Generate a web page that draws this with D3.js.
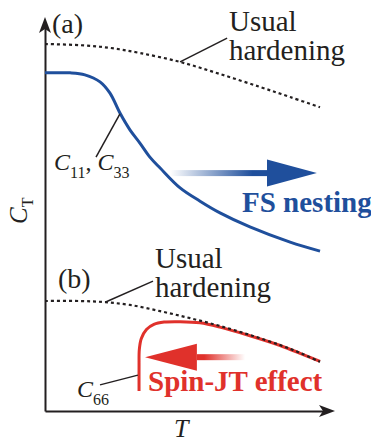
<!DOCTYPE html>
<html>
<head>
<meta charset="utf-8">
<script src="https://cdn.jsdelivr.net/npm/d3@7"></script>
<style>
  body { margin: 0; background: #fff; }
</style>
</head>
<body>
<div id="wrapper"></div>
<script>
// curves in arbitrary units: T from 0..100, C from 0..100
const hardeningA = [[0,94.1],[12.3,93.8],[22.8,93.1],[33.3,91.8],[47.4,89.5],[61.4,86.4],[75.4,83.1],[86,80.5],[96.5,77.9]];
const nestingC11 = [[0,86.7],[8.8,86.7],[14,86.2],[19.3,84.4],[22.8,81.5],[26.3,76.4],[29.8,72.1],[33.3,68.7],[36.8,65.1],[40.4,62.3],[47.4,57.2],[54.4,53.8],[61.4,50.8],[71.9,47.2],[86,43.3],[96.5,41]];
const hardeningB = [[0,28.2],[12.3,28.2],[21.1,27.9],[29.8,27.2],[40.4,25.6],[50.9,23.8],[61.4,21.8],[71.9,19.5],[82.5,16.9],[89.5,14.9],[96.5,12.6]];
const spinC66 = [[33,5.1],[33,11.8],[33.1,15.8],[33.8,18.6],[35.6,20.9],[38.2,22.2],[41.8,22.8],[47.4,22.9],[54.4,22.6],[61.4,21.5],[71.9,19.3],[82.5,16.8],[89.5,14.8],[96.5,12.7]];

// leader lines [from, to]
const leaders = [
  [[47.4,89.5],[63.9,95.6]],
  [[26.3,76.2],[17.9,65.1]],
  [[21.1,27.9],[37.9,33.3]],
  [[19.3,6.7],[32.6,9.2]]
];

// arrows: start of shaft, head base, tip, C level
const blueArrow = {from: 43.9, base: 77.9, tip: 95.4, c: 61.0};
const redArrow = {from: 70.2, base: 53.3, tip: 35.1, c: 13.8};

const blue = "#1f4f9c";
const red = "#e0312b";
const ink = "#231f20";
const serif = "Liberation Serif";

const width = 371, height = 443;
const svg = d3.select("#wrapper").append("svg")
  .attr("width", width).attr("height", height);

const x = d3.scaleLinear().domain([0,100]).range([45,330]);
const y = d3.scaleLinear().domain([0,100]).range([411,21]);

const defs = svg.append("defs");
function grad(id, col, flip) {
  const g = defs.append("linearGradient").attr("id", id)
    .attr("x1", flip ? "100%" : "0%").attr("x2", flip ? "0%" : "100%")
    .attr("y1", "0%").attr("y2", "0%");
  g.append("stop").attr("offset", "0%").attr("stop-color", col).attr("stop-opacity", 0);
  g.append("stop").attr("offset", "85%").attr("stop-color", col).attr("stop-opacity", 1);
}
grad("gblue", blue, false);
grad("gred", red, true);

// axes, no ticks
svg.append("g").attr("transform", `translate(${x(0)},0)`)
  .call(d3.axisLeft(y.copy().range([411,24])).ticks(0).tickSizeOuter(0))
  .call(g => g.select(".domain").attr("stroke", ink).attr("stroke-width", 2));
svg.append("g").attr("transform", `translate(0,${y(0)})`)
  .call(d3.axisBottom(x.copy().range([45,326])).ticks(0).tickSizeOuter(0))
  .call(g => g.select(".domain").attr("stroke", ink).attr("stroke-width", 2));

// arrowheads of axes
svg.append("path")
  .attr("d", `M${x(0)},17 L${x(0)+6},33 L${x(0)},29 L${x(0)-6},33 Z`)
  .attr("fill", ink);
svg.append("path")
  .attr("d", `M335,${y(0)} L319,${y(0)-6} L323,${y(0)} L319,${y(0)+6} Z`)
  .attr("fill", ink);

const line = d3.line().x(d => x(d[0])).y(d => y(d[1])).curve(d3.curveCatmullRom.alpha(0.5));

svg.append("path").attr("d", line(spinC66))
  .attr("fill", "none").attr("stroke", red).attr("stroke-width", 3);

[hardeningA, hardeningB].forEach(s => {
  svg.append("path").attr("d", line(s))
    .attr("fill", "none").attr("stroke", ink).attr("stroke-width", 2.2)
    .attr("stroke-dasharray", "3,3");
});

svg.append("path").attr("d", line(nestingC11))
  .attr("fill", "none").attr("stroke", blue).attr("stroke-width", 3);

leaders.forEach(l => {
  svg.append("line")
    .attr("x1", x(l[0][0])).attr("y1", y(l[0][1]))
    .attr("x2", x(l[1][0])).attr("y2", y(l[1][1]))
    .attr("stroke", ink).attr("stroke-width", 1.5);
});

// fat arrows
function fatArrow(a, col, gid) {
  const yc = y(a.c);
  const x0 = Math.min(x(a.from), x(a.base)), x1 = Math.max(x(a.from), x(a.base));
  svg.append("rect").attr("x", x0).attr("y", yc - 3).attr("width", x1 - x0).attr("height", 6)
    .attr("fill", `url(#${gid})`);
  svg.append("path")
    .attr("d", `M${x(a.tip)},${yc} L${x(a.base)},${yc-13.5} L${x(a.base)},${yc+13.5} Z`)
    .attr("fill", col);
}
fatArrow(blueArrow, blue, "gblue");
fatArrow(redArrow, red, "gred");

// texts
const txt = (px, py, size) => svg.append("text").attr("x", px).attr("y", py)
  .attr("font-family", serif).attr("font-size", size).attr("fill", ink);

txt(52, 33, 28).text("(a)");
txt(58, 288, 28).text("(b)");
txt(229, 31, 29).text("Usual");
txt(229, 60, 29).text("hardening");
txt(155, 268, 29).text("Usual");
txt(155, 297, 29).text("hardening");

txt(242, 212, 29).attr("font-weight", "bold").attr("fill", blue).text("FS nesting");
txt(148, 391, 29).attr("font-weight", "bold").attr("fill", red).text("Spin-JT effect");

// C11, C33
const c11 = txt(54, 170, 24);
c11.append("tspan").attr("font-style", "italic").text("C");
c11.append("tspan").attr("dy", 8).attr("font-size", 16).text("11");
c11.append("tspan").attr("dy", -8).text(", ");
c11.append("tspan").attr("font-style", "italic").text("C");
c11.append("tspan").attr("dy", 8).attr("font-size", 16).text("33");

const c66 = txt(77, 397, 24);
c66.append("tspan").attr("font-style", "italic").text("C");
c66.append("tspan").attr("dy", 8).attr("font-size", 16).text("66");

txt(174, 437, 26).attr("font-style", "italic").text("T");

const ct = txt(0, 0, 25).attr("transform", "translate(27,224) rotate(-90)");
ct.append("tspan").attr("font-style", "italic").text("C");
ct.append("tspan").attr("dy", 6).attr("font-size", 16).text("T");
</script>
</body>
</html>
